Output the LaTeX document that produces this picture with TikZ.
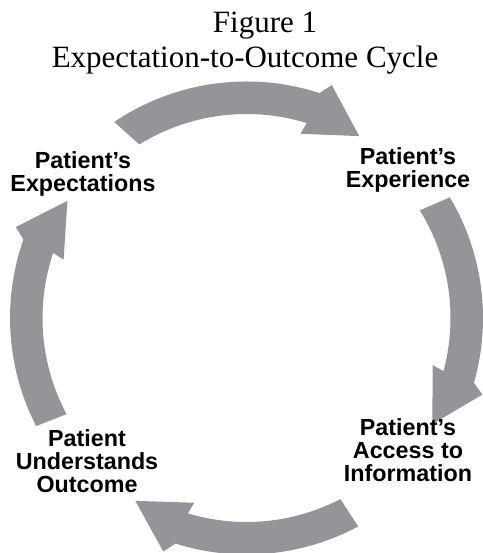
\documentclass[tikz,border=0pt]{standalone}
\usepackage{fontspec}
\setmainfont{Liberation Serif}
\newfontfamily\labelfont{Liberation Sans}

\definecolor{cyclegray}{RGB}{147,149,152}
\newcommand{\cyclearrow}[3]{%
  \fill[cyclegray] (#1:236.5pt) arc[start angle=#1, end angle={#3-1.7}, radius=236.5pt]
    -- ({#3-3.8}:248pt) -- ({#3-15.5}:214pt) -- (#3:192pt) -- ({#3-0.9}:204pt)
    arc[start angle={#3-0.9}, end angle=#2, radius=204pt] -- cycle;}

\begin{document}
\begin{tikzpicture}[x=1pt,y=1pt,
    headtext/.style={font=\fontsize{31}{34}\selectfont,inner sep=0pt,anchor=base},
    stagetext/.style={font=\labelfont\bfseries\fontsize{23.3}{23}\selectfont,align=center,inner sep=0pt,anchor=base}]
                \useasboundingbox (0,0) rectangle (482,553);

                \node[headtext] (figno) at (265,520){Figure 1};
                \node[headtext] (figtitle) at (245,485){Expectation-to-Outcome Cycle};

                \coordinate (hub) at (246.5,235);
                \begin{scope}[shift={(hub)}]
                        \cyclearrow{124}{121.7}{73.7}
                        \cyclearrow{30.7}{31.8}{-14.2}
                        \cyclearrow{-61.8}{-62.6}{-105.8}
                        \cyclearrow{207.2}{208.1}{162.3}
                \end{scope}

                \node[stagetext] (expect) at (83,361){Patient’s\\Expectations};
                \node[stagetext] (experience) at (408,365){Patient’s\\Experience};
                \node[stagetext] (access) at (408,71){Patient’s\\Access to\\Information};
                \node[stagetext] (understand) at (87,60){Patient\\Understands\\Outcome};
        \end{tikzpicture}
\end{document}
